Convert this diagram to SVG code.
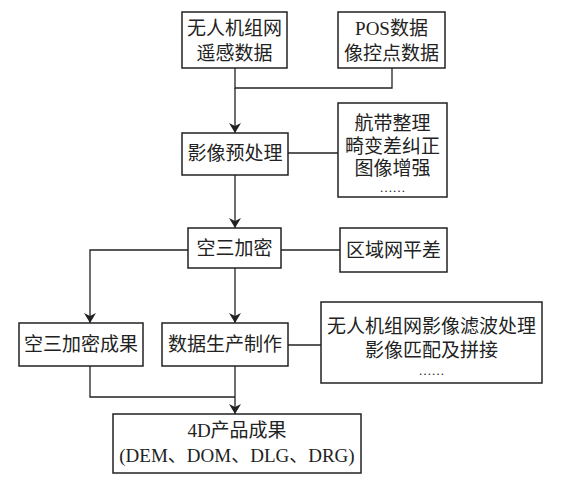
<svg xmlns="http://www.w3.org/2000/svg" width="580" height="481" viewBox="0 0 580 481">
<style>
.box{fill:#fff;stroke:#222;stroke-width:1.5}
.ln{fill:none;stroke:#222;stroke-width:1.3}
text{font-family:"Liberation Serif","Noto Sans CJK SC",serif;font-size:19px;fill:#222;text-anchor:middle}
text.dots{font-size:13px}
</style>
<defs>
<marker id="ah" viewBox="0 0 10 14" refX="10" refY="7" markerWidth="10" markerHeight="14" markerUnits="userSpaceOnUse" orient="auto">
<path d="M0,1 L10,7 L0,13 L3,7 Z" fill="#222"/>
</marker>
</defs>
<g id="connectors">
<polyline class="ln" points="235,68 235,88 392,88 392,68"/>
<line class="ln" x1="235" y1="88" x2="235" y2="133" marker-end="url(#ah)"/>
<line class="ln" x1="288" y1="153" x2="338" y2="153"/>
<line class="ln" x1="235" y1="175" x2="235" y2="228" marker-end="url(#ah)"/>
<line class="ln" x1="281" y1="250" x2="340" y2="250"/>
<polyline class="ln" points="188,250 90,250 90,323" marker-end="url(#ah)"/>
<line class="ln" x1="235" y1="268" x2="235" y2="323" marker-end="url(#ah)"/>
<line class="ln" x1="288" y1="345" x2="321" y2="345"/>
<polyline class="ln" points="90,366 90,397 235,397"/>
<line class="ln" x1="235" y1="366" x2="235" y2="414" marker-end="url(#ah)"/>
</g>
<g id="n1"><rect class="box" x="182" y="12" width="105" height="56"/><text x="234.5" y="35">无人机组网</text><text x="234.5" y="60">遥感数据</text></g>
<g id="n2"><rect class="box" x="338" y="12" width="107" height="56"/><text x="391.5" y="35">POS数据</text><text x="391.5" y="60">像控点数据</text></g>
<g id="n3"><rect class="box" x="182" y="133" width="106" height="42"/><text x="235" y="160">影像预处理</text></g>
<g id="n4"><rect class="box" x="338" y="103" width="109" height="94"/><text x="392.5" y="130">航带整理</text><text x="392.5" y="153">畸变差纠正</text><text x="392.5" y="175">图像增强</text><text class="dots" x="392.5" y="192">……</text></g>
<g id="n5"><rect class="box" x="188" y="228" width="93" height="40"/><text x="234.5" y="255">空三加密</text></g>
<g id="n6"><rect class="box" x="340" y="228" width="107" height="44"/><text x="393.5" y="257">区域网平差</text></g>
<g id="n7"><rect class="box" x="19" y="323" width="124" height="43"/><text x="81" y="351">空三加密成果</text></g>
<g id="n8"><rect class="box" x="162" y="323" width="126" height="43"/><text x="225" y="351">数据生产制作</text></g>
<g id="n9"><rect class="box" x="321" y="302" width="221" height="81"/><text x="431.5" y="333">无人机组网影像滤波处理</text><text x="431.5" y="357">影像匹配及拼接</text><text class="dots" x="431.5" y="375">……</text></g>
<g id="n10"><rect class="box" x="113" y="414" width="248" height="59"/><text x="237" y="437">4D产品成果</text><text x="237" y="462">(DEM、DOM、DLG、DRG)</text></g>
</svg>
